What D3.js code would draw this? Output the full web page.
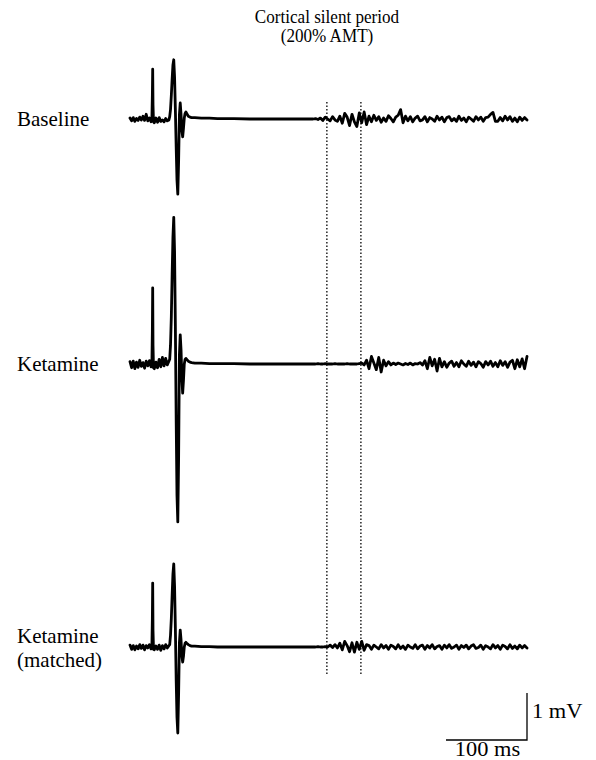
<!DOCTYPE html>
<html>
<head>
<meta charset="utf-8">
<script src="https://cdn.jsdelivr.net/npm/d3@7"></script>
<style>
	body { margin: 0; background: #fff; }
	text { font-family: 'Liberation Serif', 'DejaVu Serif', serif; fill: #000; }
</style>
</head>
<body>
<div id="chart"></div>
<script>
// sample times (ms after TMS pulse), shared by all three traces
const times = [
	-28, -26, -24, -22, -20, -18, -16, -14, -12, -10, -8, -6, -4, -2,
	-1, -0.4, 0, 0.4, 1,
	2, 4, 6, 8, 10, 12, 14, 16, 18, 20,
	21, 22, 23, 24, 25, 26, 27, 28, 29, 30, 31, 32, 33, 34, 35, 36, 37, 38, 39, 40, 41, 42, 44, 46, 48,
	52, 60, 70, 80, 100, 120, 140, 160, 180, 195,
	198, 201, 204, 207, 210, 213, 216, 219, 222, 225, 228, 231, 234, 237, 240, 243, 246, 249, 252, 255,
	258, 261, 264, 267, 270, 273, 276, 279, 282, 285, 288, 291, 294, 297, 300, 303, 306, 309, 312, 315,
	318, 321, 324, 327, 330, 333, 336, 339, 342, 345, 348, 351, 354, 357, 360, 363, 366, 369, 372, 375,
	378, 381, 384, 387, 390, 393, 396, 399, 402, 405, 408, 411, 414, 417, 420, 423, 426, 429, 432, 435,
	438, 441, 444, 447, 450, 453, 456, 459, 462,
];

// EMG in mV
const baselineMV = [
	0.02, -0.04, 0.03, -0.05, 0.01, -0.03, 0.04, -0.02, 0.06, -0.03, 0.10, -0.04, 0.02, -0.06,
	-0.02, 0.5, 1.06, 0.3, -0.06,
	-0.08, 0.02, -0.07, 0.03, -0.05, -0.02, -0.06, 0.01, -0.04, -0.02,
	0.05, 0.2, 0.5, 0.85, 1.15, 1.26, 0.9, 0.2, -0.6, -1.3, -1.6, -0.9, 0.1, 0.34, 0.1, -0.25, -0.38, -0.2, 0.02, 0.12, 0.15, 0.12, 0.06, 0.04, 0.03,
	0.03, 0.02, 0.02, 0.01, 0.01, 0.0, 0.0, 0.0, 0.0, 0.0,
	0.0, 0.01, -0.01, 0.02, -0.03, 0.04, 0.0, -0.04, 0.05, -0.02, -0.05, 0.06, -0.09, 0.12, 0.04, -0.14, 0.10, -0.06, -0.16, 0.13,
	-0.08, 0.15, -0.12, 0.06, -0.06, 0.08, -0.03, 0.05, -0.07, 0.02, -0.05, 0.07, 0.01, -0.06, 0.04, 0.08, 0.20, -0.08, 0.06, -0.04,
	0.05, -0.06, 0.02, 0.06, -0.04, -0.02, 0.05, -0.06, 0.03, 0.0, -0.05, 0.06, -0.02, 0.04, -0.06, 0.03, 0.05, -0.04, 0.01, -0.05,
	0.06, -0.03, 0.02, -0.06, 0.04, 0.0, -0.05, 0.05, -0.02, 0.04, -0.05, 0.03, 0.04, 0.10, 0.14, -0.05, -0.05, 0.03, -0.04, 0.06,
	-0.02, 0.05, -0.05, 0.02, -0.06, 0.04, -0.03, 0.03, -0.02,
];

const ketamineMV = [
	0.05, -0.08, 0.06, -0.10, 0.04, -0.07, 0.08, -0.05, 0.03, -0.09, 0.06, -0.04, 0.07, -0.06,
	-0.03, 0.7, 1.62, 0.4, -0.08,
	-0.10, 0.04, -0.08, 0.10, -0.06, 0.14, -0.04, 0.12, -0.02, 0.06,
	0.1, 0.4, 1.0, 1.9, 2.7, 3.12, 2.4, 0.8, -1.2, -2.8, -3.36, -2.0, 0.2, 0.62, 0.3, -0.3, -0.62, -0.35, 0.0, 0.1, 0.12, 0.1, 0.06, 0.04, 0.03,
	0.02, 0.02, 0.01, 0.01, 0.01, 0.0, 0.0, 0.0, 0.0, 0.0,
	0.0, 0.0, 0.01, 0.0, 0.0, 0.01, 0.0, 0.0, 0.0, 0.01, 0.0, 0.0, 0.0, 0.0, 0.01, 0.0, 0.0, 0.0, 0.0, 0.01,
	0.02, -0.02, 0.08, -0.10, 0.16, 0.02, -0.12, 0.14, -0.17, 0.08, -0.04, 0.05, -0.02, 0.02, -0.01, 0.02, 0.0, -0.02, 0.01, -0.01,
	0.02, -0.02, 0.01, 0.0, 0.03, -0.02, 0.07, -0.10, 0.14, -0.04, 0.10, -0.15, 0.12, -0.06, 0.05, -0.07, 0.02, 0.06, -0.05, 0.03,
	-0.06, 0.07, 0.0, -0.05, 0.06, -0.03, 0.04, -0.06, 0.05, 0.01, -0.07, 0.05, -0.02, 0.06, -0.05, 0.03, -0.06, 0.07, -0.03, 0.05,
	-0.07, 0.04, 0.08, -0.10, 0.09, -0.06, 0.11, -0.10, 0.16,
];

const matchedMV = [
	0.04, -0.05, 0.03, -0.06, 0.02, -0.04, 0.05, -0.03, 0.04, -0.06, 0.03, -0.02, 0.05, -0.04,
	-0.02, 0.6, 1.36, 0.35, -0.05,
	-0.06, 0.02, -0.05, 0.04, -0.07, 0.03, -0.04, 0.05, -0.02, 0.03,
	0.05, 0.25, 0.6, 1.1, 1.55, 1.77, 1.3, 0.4, -0.7, -1.5, -1.83, -1.0, 0.1, 0.36, 0.15, -0.18, -0.32, -0.2, 0.0, 0.08, 0.1, 0.08, 0.05, 0.03, 0.02,
	0.02, 0.01, 0.01, 0.0, 0.0, 0.0, 0.0, 0.0, 0.0, 0.0,
	0.0, 0.0, 0.01, 0.0, 0.0, 0.01, 0.0, 0.04, -0.01, 0.05, -0.02, 0.08, -0.06, 0.12, 0.03, -0.10, 0.09, -0.11, 0.10, -0.05,
	0.12, -0.07, 0.05, 0.03, -0.05, 0.04, 0.0, -0.04, 0.05, -0.02, 0.03, -0.05, 0.04, 0.01, -0.04, 0.05, -0.03, 0.02, -0.05, 0.04,
	0.0, -0.03, 0.05, -0.04, 0.02, 0.04, -0.05, 0.03, -0.02, 0.05, -0.04, 0.01, 0.03, -0.05, 0.04, -0.02, 0.05, -0.03, 0.0, 0.04,
	-0.05, 0.03, -0.01, 0.04, -0.04, 0.02, 0.05, -0.03, -0.01, 0.04, -0.05, 0.03, 0.0, -0.04, 0.05, -0.02, 0.03, -0.05, 0.04, 0.01,
	-0.04, 0.05, -0.03, 0.02, -0.04, 0.04, -0.02, 0.03, -0.02,
];

const traceLabels = [['Baseline'], ['Ketamine'], ['Ketamine', '(matched)']];
const traceValues = [baselineMV, ketamineMV, matchedMV];
const titleLines = ['Cortical silent period', '(200% AMT)'];
const cspBounds = [215, 257]; // ms, dotted lines
const scaleBarMs = 100;
const scaleBarMv = 1;

const width = 596;
const height = 760;
const baselineY = [119, 364, 647]; // resting level of each trace
const labelY = [126, 371, 643];
const pxPerMv = 47;

const svg = d3
	.select('#chart')
	.append('svg')
	.attr('width', width)
	.attr('height', height);

const x = d3.scaleLinear().domain([-28, 462]).range([130, 527]);

const yScales = baselineY.map((y0) =>
	d3.scaleLinear().domain([0, 1]).range([y0, y0 - pxPerMv])
);

// type in the figure is a bit squashed/stretched, hence the scaleX
function addText(tx, ty, lines, size, anchor, step, scaleX) {
	svg.append('g')
		.attr('transform', `translate(${tx},${ty}) scale(${scaleX},1)`)
		.append('text')
		.attr('font-size', size)
		.attr('text-anchor', anchor)
		.selectAll('tspan')
		.data(lines)
		.join('tspan')
		.attr('x', 0)
		.attr('y', (d, i) => i * step)
		.text((d) => d);
}

// title
addText(327, 23, titleLines, 19, 'middle', 19, 0.9);

// silent period markers
svg.selectAll('.csp')
	.data(cspBounds)
	.join('line')
	.attr('class', 'csp')
	.attr('x1', (d) => x(d))
	.attr('x2', (d) => x(d))
	.attr('y1', 102)
	.attr('y2', 675)
	.attr('stroke', '#000')
	.attr('stroke-width', 1.3)
	.attr('stroke-dasharray', '1.5,2');

// traces
traceValues.forEach((vals, k) => {
	const line = d3
		.line()
		.x((d, i) => x(times[i]))
		.y((d) => yScales[k](d));
	svg.append('path')
		.datum(vals)
		.attr('fill', 'none')
		.attr('stroke', '#000')
		.attr('stroke-width', 2.8)
		.attr('stroke-linejoin', 'round')
		.attr('stroke-linecap', 'round')
		.attr('d', line);

	addText(17, labelY[k], traceLabels[k], 20, 'start', 24, 1.05);
});

// scale bar
const barRight = 527;
const barBottom = 740;
const barLeft = barRight - (x(scaleBarMs) - x(0));
const barTop = barBottom - (yScales[0](0) - yScales[0](scaleBarMv));
svg.append('path')
	.attr('d', `M${barLeft},${barBottom}H${barRight}V${barTop}`)
	.attr('fill', 'none')
	.attr('stroke', '#000')
	.attr('stroke-width', 1.3);

addText(barRight + 5, 718, [scaleBarMv + ' mV'], 20, 'start', 0, 1.12);
addText((barLeft + barRight) / 2 + 1, 756, [scaleBarMs + ' ms'], 20, 'middle', 0, 1.12);
</script>
</body>
</html>
